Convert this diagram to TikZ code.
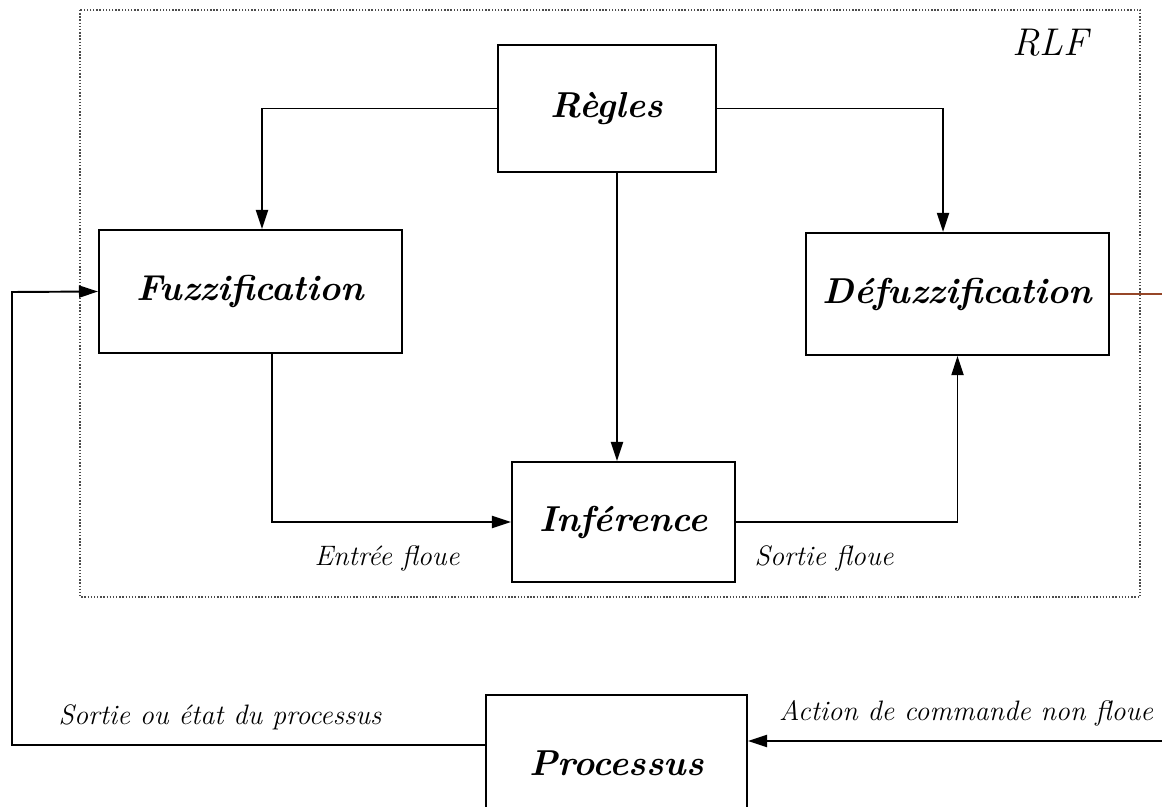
\documentclass[tikz,border=0pt]{standalone}
\usetikzlibrary{arrows.meta}
\definecolor{brun}{RGB}{150,70,40}
\begin{document}
\begin{tikzpicture}[x=0.02cm, y=-0.02cm,
  bloc/.style={draw, line width=1.2pt, inner sep=0pt,
    font=\fontsize{20.5}{24}\selectfont\bfseries\itshape},
  fleche/.style={line width=1.1pt, -{Triangle[length=0.38cm, width=0.24cm]}},
  legende/.style={font=\fontsize{16}{19}\selectfont\itshape}]
  \useasboundingbox (0,0) rectangle (1162,807);

  % --- cadre du regulateur flou ---
  \draw[densely dotted, line width=0.8pt, black!70] (80,10) rectangle (1140,597);
  \node[font=\fontsize{22}{26}\selectfont\itshape] (rlf) at (1050,43) {RLF};

  % blocs
  \node[bloc, minimum width=4.36cm, minimum height=2.54cm] (regles) at (607,108.5) {Règles};
  \node[bloc, minimum width=6.06cm, minimum height=2.46cm] (fuzz) at (250.5,291.5) {Fuzzification};
  \node[bloc, minimum width=6.06cm, minimum height=2.44cm] (defuzz) at (957.5,294) {Défuzzification};
  \node[bloc, minimum width=4.46cm, minimum height=2.4cm] (inference) at (623.5,522) {Inférence};
  \node[bloc, minimum width=5.22cm, minimum height=2.72cm] (processus) at (616.5,763) {Processus};

  % liaisons internes
  \draw[fleche] (regles.west) -| ([xshift=0.23cm]fuzz.north);
  \draw[fleche] (regles.east) -| ([xshift=-0.29cm]defuzz.north);
  \draw[fleche] ([xshift=0.2cm]regles.south) -- ([xshift=0.2cm]regles.south |- inference.north);
  \draw[fleche] ([xshift=0.43cm]fuzz.south) |- (inference.west);
  \draw[fleche] (inference.east) -| (defuzz.south);

  % boucle de commande
  \coordinate (sortie) at (1162,294);
  \coordinate (action) at (1162,741);
  \coordinate (retour) at (12,292);
  \draw[brun, line width=1.1pt] (defuzz.east) -- (sortie);
  \draw[fleche] (action) -- (action -| processus.east);
  \draw[fleche] ([yshift=0.36cm]processus.west) -| (retour) -- (fuzz.west);

  % etiquettes
  \node[legende] (entree) at (387,558) {Entrée floue};
  \node[legende] (sortiefl) at (824,558) {Sortie floue};
  \node[legende] (etat) at (220,717) {Sortie ou état du processus};
  \node[legende] (actionlbl) at (966,713) {Action de commande non floue};
\end{tikzpicture}
\end{document}
